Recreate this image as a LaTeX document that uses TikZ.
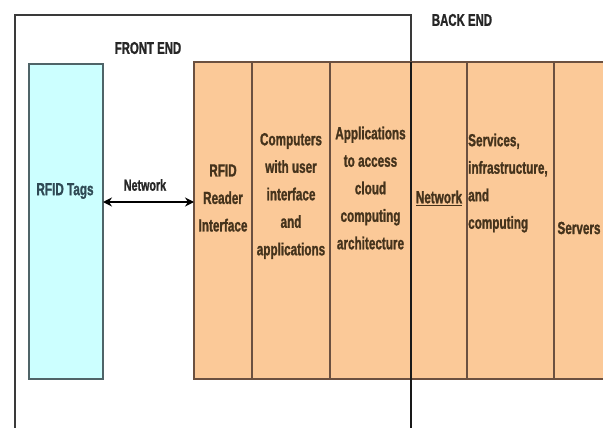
\documentclass[tikz,border=0pt]{standalone}
\usepackage{fontspec}
\setmainfont{Liberation Sans}[FakeStretch=0.67, BoldFeatures={FakeBold=1.2}]
\usetikzlibrary{arrows.meta}
\definecolor{peach}{HTML}{FBC998}
\definecolor{aqua}{HTML}{CCFFFF}
\definecolor{cellline}{HTML}{6B5040}
\definecolor{tagline}{HTML}{4F6468}
\definecolor{frameline}{HTML}{3A3A3A}
\definecolor{txtbrown}{HTML}{45331C}
\definecolor{txttag}{HTML}{2F4A55}
\tikzset{
  x=1pt, y=-1pt,
  cell/.style={draw=cellline, line width=1.3pt, fill=peach, anchor=north west,
    inner sep=0pt, outer sep=0pt, minimum height=317pt},
  tagbox/.style={draw=tagline, line width=1.5pt, fill=aqua, anchor=north west,
    inner sep=0pt, outer sep=0pt, minimum width=74pt, minimum height=315pt},
  lbl/.style={font=\bfseries\fontsize{17.5}{27.5}\selectfont, text=txtbrown,
    align=center, inner sep=0pt},
  head/.style={font=\bfseries\fontsize{17}{18}\selectfont, text=black!85, inner sep=0pt},
  frame/.style={draw=frameline, line width=1.6pt},
  arr/.style={{Stealth[length=9pt,width=9pt]}-{Stealth[length=9pt,width=9pt]}, line width=2.4pt, black}
}
\begin{document}
\begin{tikzpicture}
\useasboundingbox (0,0) rectangle (603,428);
% outer frame (front end)
\draw[frame] (15,428) -- (15,15) -- (411,15) -- (411,62);
% RFID tags box
\node[tagbox] (tags) at (29,64) {};
\node[lbl, text=txttag] (tagslbl) at (65,191) {RFID Tags};
% orange cells
\node[cell, minimum width=58pt] (reader) at (194,62) {};
\node[cell, minimum width=78pt] (comp) at (252,62) {};
\node[cell, minimum width=81pt] (apps) at (330,62) {};
\node[cell, minimum width=56pt] (net) at (411,62) {};
\node[cell, minimum width=87pt] (serv) at (467,62) {};
\node[cell, minimum width=52pt] (servers) at (554,62) {};
% frame line continuing down through the cells
\draw[frame, draw=black!90] (net.north west) -- (411,428);
% labels
\node[lbl] (readerlbl) at (reader.center |- 0,198) {RFID\\Reader\\Interface};
\node[lbl] (complbl) at (comp.center |- 0,196) {Computers\\with user\\interface\\and\\applications};
\node[lbl] (appslbl) at (apps.center |- 0,188) {Applications\\to access\\cloud\\computing\\architecture};
\node[lbl] (netlbl) at (net.center |- 0,198) {\underline{Network}};
\node[lbl, align=left, anchor=west] (servlbl) at (468,183) {Services,\\infrastructure,\\and\\computing};
\node[lbl] (serverslbl) at (579,228) {Servers};
% headings
\node[head] (front) at (148,48) {FRONT END};
\node[head] (back) at (462,20) {BACK END};
% network arrow
\coordinate (ay) at (0,202);
\node[head, font=\bfseries\fontsize{16}{18}\selectfont] (arrlbl) at (145,185) {Network};
\draw[arr] (tags.east |- ay) -- (reader.west |- ay);
\end{tikzpicture}
\end{document}
